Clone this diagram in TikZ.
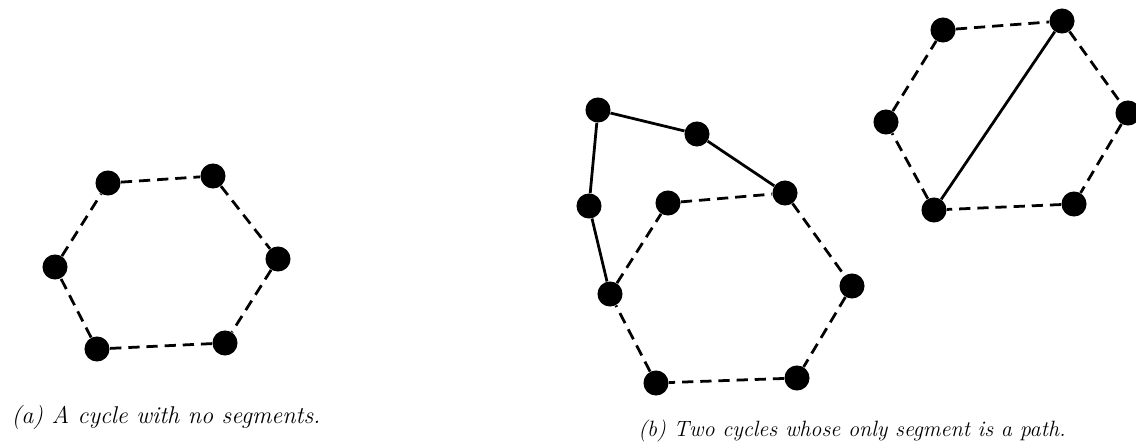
\documentclass[tikz,border=0pt]{standalone}
\usepackage{amsmath, amssymb}
\usepackage{tikz}
\usetikzlibrary{positioning}

\begin{document}
\begin{tikzpicture}[
    x=0.578pt, y=-0.578pt,
    vtx/.style={
	circle,
	fill=black,
	inner sep=0pt,
	minimum size=14.5pt
    },
    cyc/.style={
	line width=1.6pt,
	dash pattern=on 6.5pt off 4pt
    },
    seg/.style={
	line width=1.6pt
    },
    captext/.style={
	font=\fontsize{12.8pt}{15pt}\selectfont\itshape
    }
]
	\useasboundingbox (0,0) rectangle (1136,445);

	% (a) cycle alone
	\node[vtx] (a1) at (108,183) {};
	\node[vtx] (a2) at (213,176) {};
	\node[vtx] (a3) at (278,259) {};
	\node[vtx] (a4) at (225,343) {};
	\node[vtx] (a5) at (97,349) {};
	\node[vtx] (a6) at (55,267) {};

	\draw[cyc] (a1) -- (a2) -- (a3) -- (a4) -- (a5) -- (a6) -- (a1);

	\node[captext, font=\fontsize{14pt}{17pt}\selectfont\itshape] (capa)
	    at (166,417) {(a) A cycle with no segments.};

	% (b) lower cycle
	\node[vtx] (b1) at (668,203) {};
	\node[vtx] (b2) at (785,193) {};
	\node[vtx] (b3) at (852,286) {};
	\node[vtx] (b4) at (797,378) {};
	\node[vtx] (b5) at (656,383) {};
	\node[vtx] (b6) at (610,294) {};

	\draw[cyc] (b1) -- (b2) -- (b3) -- (b4) -- (b5) -- (b6) -- (b1);

	% path outside the lower cycle
	\node[vtx] (p1) at (589,206) {};
	\node[vtx] (p2) at (598,110) {};
	\node[vtx] (p3) at (697,134) {};

	\draw[seg] (b6) -- (p1) -- (p2) -- (p3) -- (b2);

	% (b) upper cycle with a chord
	\node[vtx] (c1) at (943,30) {};
	\node[vtx] (c2) at (1062,21) {};
	\node[vtx] (c3) at (1128,113) {};
	\node[vtx] (c4) at (1074,204) {};
	\node[vtx] (c5) at (934,210) {};
	\node[vtx] (c6) at (886,122) {};

	\draw[cyc] (c1) -- (c2) -- (c3) -- (c4) -- (c5) -- (c6) -- (c1);
	\draw[seg] (c5) -- (c2);

	\node[captext] (capb) at (852,431) {(b) Two cycles whose only segment is a path.};
\end{tikzpicture}
\end{document}
